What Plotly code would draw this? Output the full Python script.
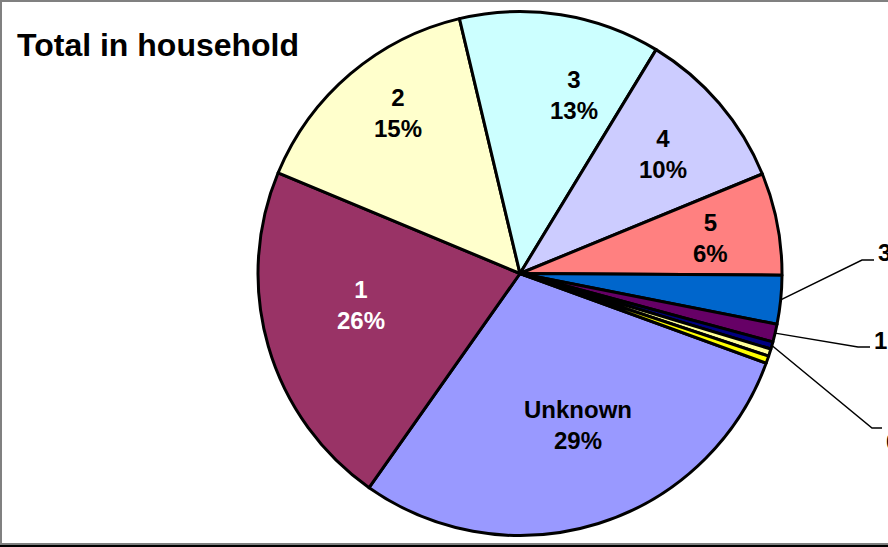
import math

import plotly.graph_objects as go

W, H = 888, 547

# slice data, clockwise from the first slice
categories = ["Unknown", "1", "2", "3", "4", "5", "6", "7", "8", "9", "10+"]
shares = [29.2, 21.5, 15.0, 12.4, 10.1, 6.3, 3.0, 1.1, 0.45, 0.45, 0.45]
printed_pct = ["29%", "26%", "15%", "13%", "10%", "6%", "3.0%", "1.1%", "0.4%", "0.5%", "0.5%"]
colors = ["#9999FF", "#993366", "#FFFFCC", "#CCFFFF", "#CCCCFF", "#FF8080",
          "#0066CC", "#660066", "#000080", "#FFFF99", "#FFFF00"]
text_colors = ["black", "white", "black", "black", "black", "black",
               "black", "black", "black", "black", "black"]

# inside label placement: fraction of radius and angular nudge (deg)
inside_place = {"Unknown": (0.62, -3.5), "1": (0.62, 5.0), "2": (0.77, 3.3),
                "3": (0.71, 7.8), "4": (0.71, 0.7), "5": (0.74, 0.4)}
# thin slices get a leader line: elbow x, elbow y, line end x, label x, label y (px)
outside = {"6": (862, 260, 874, 876, 252),
           "7": (858, 347, 870, 872, 340),
           "8": (872, 428, 882, 884, 441)}

first_angle = 110
dom_x = [258 / W, 782 / W]
dom_y = [1 - 536 / H, 1 - 11 / H]
label_font = {"family": "Liberation Sans, Arial", "size": 24, "weight": "bold"}

fig = go.Figure(
    go.Pie(
        labels=categories,
        values=shares,
        textinfo="none",
        marker={"colors": colors, "line": {"color": "black", "width": 3}},
        sort=False,
        direction="clockwise",
        rotation=first_angle,
        domain={"x": dom_x, "y": dom_y},
        showlegend=False,
        hoverinfo="label+percent",
    )
)

cx = (dom_x[0] + dom_x[1]) / 2 * W
cy = (1 - (dom_y[0] + dom_y[1]) / 2) * H
radius = min((dom_x[1] - dom_x[0]) * W, (dom_y[1] - dom_y[0]) * H) / 2
total = sum(shares)
cumulative = 0.0
for cat, share, pct, tcol in zip(categories, shares, printed_pct, text_colors):
    mid_deg = first_angle + (cumulative + share / 2) / total * 360
    cumulative += share
    if cat in inside_place:
        frac, nudge = inside_place[cat]
        a = math.radians(mid_deg + nudge)
        lx = cx + frac * radius * math.sin(a)
        ly = cy - frac * radius * math.cos(a)
        fig.add_annotation(x=lx / W, y=1 - ly / H, xref="paper", yref="paper",
                           text=f"{cat}<br>{pct}", showarrow=False,
                           xanchor="center", yanchor="middle",
                           font={**label_font, "color": tcol})
    elif cat in outside:
        a = math.radians(mid_deg)
        ex, ey, end_x, label_x, label_y = outside[cat]
        sx = cx + radius * math.sin(a)
        sy = cy - radius * math.cos(a)
        path = (f"M {sx / W},{1 - sy / H} L {ex / W},{1 - ey / H} "
                f"L {end_x / W},{1 - ey / H}")
        fig.add_shape(type="path", path=path, xref="paper", yref="paper",
                      line={"color": "black", "width": 1.5})
        fig.add_annotation(x=label_x / W, y=1 - label_y / H, xref="paper", yref="paper",
                           text=pct, showarrow=False, xanchor="left", yanchor="middle",
                           font={**label_font, "color": tcol})

fig.add_annotation(x=15 / W, y=1 - 45 / H, xref="paper", yref="paper", text="Total in household",
                   showarrow=False, xanchor="left", yanchor="middle",
                   font={"family": "Liberation Sans, Arial", "size": 32, "color": "black", "weight": "bold"})

# chart frame: gray top/left, dark bottom edge
fig.add_shape(type="rect", xref="paper", yref="paper", x0=1 / W, x1=1.05, y0=1 - 544 / H, y1=1 - 1 / H,
              line={"color": "#808080", "width": 2})
fig.add_shape(type="line", xref="paper", yref="paper", x0=0, x1=1, y0=1 - 546 / H, y1=1 - 546 / H,
              line={"color": "black", "width": 2})

fig.update_layout(
    width=W,
    height=H,
    margin={"l": 0, "r": 0, "t": 0, "b": 0},
    paper_bgcolor="white",
    plot_bgcolor="white",
)

fig.write_html("out.html", config={"displayModeBar": False},
               post_script="document.body.style.margin = '0px';")
